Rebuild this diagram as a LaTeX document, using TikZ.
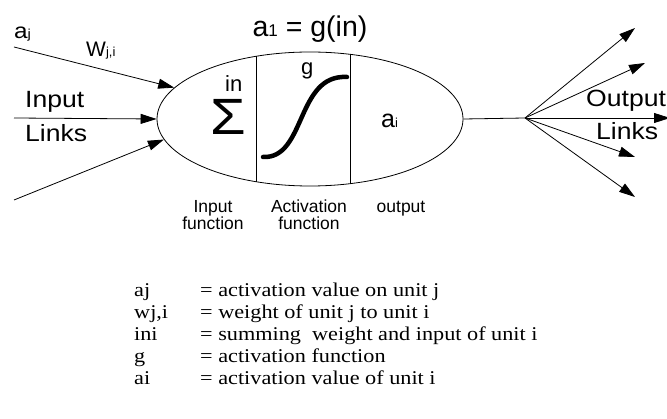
\documentclass[tikz,border=0pt]{standalone}
\usepackage{fontspec}
\setmainfont{Liberation Sans}
\newfontfamily\widesans[FakeStretch=1.13]{Liberation Sans}
\newfontfamily\legendfont[FakeStretch=1.14]{Liberation Serif}
\usetikzlibrary{arrows.meta,shapes.geometric}

\newcommand{\sz}[1]{\fontsize{#1}{#1}\selectfont}
\newcommand{\lowsub}[1]{{\sz{13}#1}}

\tikzset{
  link/.style={line width=0.8pt, -{Triangle[length=16pt,width=10pt]}},
  plain/.style={line width=0.8pt},
  lbl/.style={inner sep=0pt, anchor=base west},
  biglbl/.style={lbl, font=\widesans\sz{23.5}},
  small/.style={inner sep=0pt, anchor=base, align=center, font=\sz{17.5}},
  legend/.style={inner sep=0pt, anchor=base west, font=\legendfont\sz{19.5}},
}

\begin{document}
\begin{tikzpicture}[x=1pt,y=-1pt]
  \useasboundingbox (0,0) rectangle (667,419);

  % the unit body
  \node[draw, line width=0.8pt, ellipse, minimum width=306pt, minimum height=134pt, inner sep=0pt]
    (neuron) at (310,119) {};
  % section dividers
  \draw[plain] (256,56) -- (256,182);
  \draw[plain] (350,54) -- (350,184);

  % summation part
  \node[inner sep=0pt, anchor=base, font=\widesans\sz{51}, text height=37pt, text depth=0pt]
    (sigma) at (228,135) {Σ};
  \node[lbl, font=\sz{22}] (inlbl) at (225,92) {in};

  % activation curve
  \draw[line width=4.5pt, line cap=round] (263,157) .. controls (306,159) and (296,74) .. (347,77);
  \node[lbl, font=\sz{22}] (glbl) at (301,75) {g};

  % output value
  \node[lbl, font=\sz{25}] (ai) at (381,128) {a\lowsub{i}};

  % title
  \node[inner sep=0pt, anchor=base, font=\sz{28.5}] (title) at (310,37) {a{\sz{17}1} = g(in)};

  % input links
  \coordinate (in1) at (14,47);
  \coordinate (in2) at (14,118);
  \coordinate (in3) at (14,200);
  \draw[link] (in1) -- (neuron.167.5);
  \draw[link] (in2) -- (neuron.west);
  \draw[link] (in3) -- (neuron.188);

  \node[lbl, font=\widesans\sz{21.5}] (aj) at (14,38.5) {a\lowsub{j}};
  \node[lbl, font=\sz{21}] (wji) at (86,57) {W\lowsub{j,i}};
  \node[biglbl] (inlinks1) at (25,108) {Input};
  \node[biglbl] (inlinks2) at (25,142) {Links};

  % output links
  \coordinate (fan) at (525,118);
  \coordinate (o1) at (635,28);
  \coordinate (o2) at (645,63);
  \coordinate (o3) at (670,118);
  \coordinate (o4) at (635,157);
  \coordinate (o5) at (635,197);
  \draw[plain] (neuron.east) -- (fan);
  \foreach \o in {o1,o2,o3,o4,o5} \draw[link] (fan) -- (\o);

  \node[biglbl] (outlinks1) at (586,107) {Output};
  \node[biglbl] (outlinks2) at (596,140) {Links};

  % section captions
  \node[small] (capin) at (213,230) {Input\\function};
  \node[small] (capact) at (309,230) {Activation\\function};
  \node[small] (capout) at (401,213) {output};

  % legend of symbols
  \node[legend] (s1) at (134,297) {aj};
  \node[legend] (d1) at (200,297) {= activation value on unit j};
  \node[legend] (s2) at (134,319) {wj,i};
  \node[legend] (d2) at (200,319) {= weight of unit j to unit i};
  \node[legend] (s3) at (134,341) {ini};
  \node[legend] (d3) at (200,341) {= summing\ \ weight and input of unit i};
  \node[legend] (s4) at (134,363) {g};
  \node[legend] (d4) at (200,363) {= activation function};
  \node[legend] (s5) at (134,385) {ai};
  \node[legend] (d5) at (200,385) {= activation value of unit i};
\end{tikzpicture}
\end{document}
